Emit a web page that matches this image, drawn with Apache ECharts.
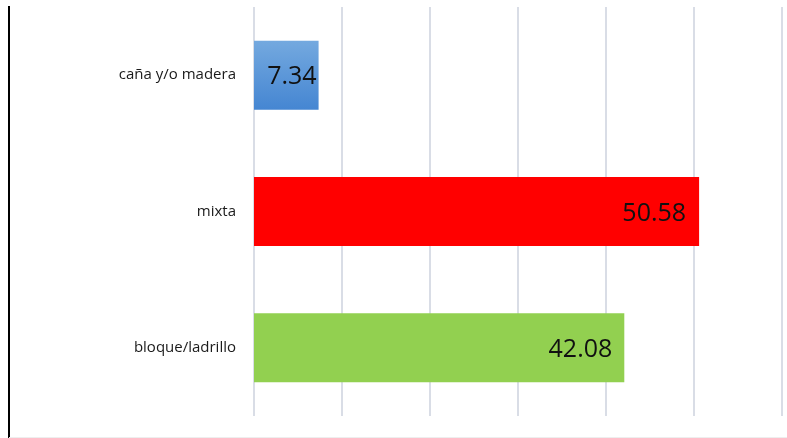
<!DOCTYPE html>
<html><head><meta charset="utf-8">
<script src="https://cdn.jsdelivr.net/npm/echarts@6/dist/echarts.min.js"></script>
<style>html,body{margin:0;padding:0;background:#fff}#c{width:787px;height:438px}</style>
</head><body><div id="c"></div>
<script>
const categories = ['bloque/ladrillo', 'mixta', 'caña y/o madera'];
const values = [42.08, 50.58, 7.34];
const barColors = [
  '#92d050',
  '#ff0000',
  {type:'linear',x:0,y:0,x2:0,y2:1,colorStops:[{offset:0,color:'#74a9df'},{offset:1,color:'#4586d2'}]}
];
const labelDistances = [12, 13, 2];
const chart = echarts.init(document.getElementById('c'));
chart.setOption({
  animation:false,
  grid:{left:254,right:5,top:7,bottom:22,containLabel:false},
  xAxis:{type:'value',min:0,max:60,interval:10,
    axisLabel:{show:false},axisLine:{show:false},axisTick:{show:false},
    splitLine:{show:true,lineStyle:{color:'#d9dde6',width:2}}},
  yAxis:{type:'category',data:categories,
    axisLine:{show:false},axisTick:{show:false},
    axisLabel:{margin:18,fontSize:15,color:'#1a1a1a',fontFamily:'Open Sans',padding:[4,0,0,0]}},
  series:[{type:'bar',barWidth:69,
    data:values.map((v,i)=>({value:v,itemStyle:{color:barColors[i]},
      label:{distance:labelDistances[i]}})),
    label:{show:true,position:'insideRight',fontSize:25,color:'#111',fontFamily:'Open Sans',
      offset:[0,2],formatter:p=>p.value.toFixed(2)}}],
  graphic:[
    {type:'line',shape:{x1:9,y1:6,x2:9,y2:438},style:{stroke:'#000',lineWidth:2}},
    {type:'line',shape:{x1:9,y1:437.5,x2:787,y2:437.5},style:{stroke:'#eeeeee',lineWidth:1}}
  ]
});
</script></body></html>
